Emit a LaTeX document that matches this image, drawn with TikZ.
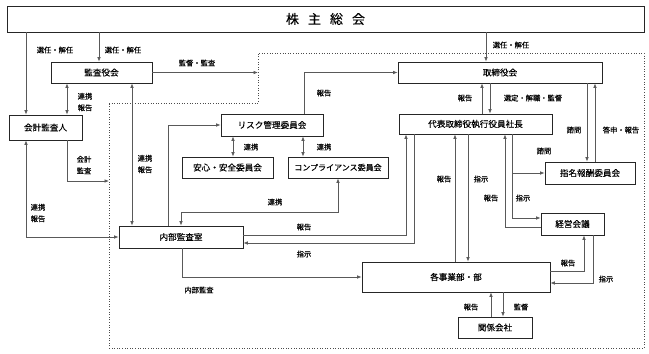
\documentclass[tikz,border=0pt]{standalone}
\usepackage{fontspec}
\setmainfont{Noto Sans CJK JP}[FakeBold=0.25]
\usetikzlibrary{arrows.meta}
\tikzset{
  box/.style={draw=black!85, line width=0.8pt, fill=white, inner sep=0pt,
    font=\fontsize{8.6}{10}\selectfont},
  conn/.style={draw=black!65, line width=0.7pt, -{Latex[length=4.5pt,width=3.6pt]}},
  bconn/.style={draw=black!65, line width=0.7pt, {Latex[length=4.5pt,width=3.6pt]}-{Latex[length=4.5pt,width=3.6pt]}},
  lab/.style={font=\fontsize{7.3}{11.5}\selectfont, inner sep=0pt, align=center},
  frame/.style={draw=black!70, line width=0.6pt, dotted}
}
\begin{document}
\begin{tikzpicture}[x=1pt,y=-1pt]
\useasboundingbox (0,0) rectangle (649,354);
% dotted frame
\draw[frame] (109,103) -- (258,103) -- (258,53) -- (644,53) -- (644,348) -- (109,348) -- cycle;
\coordinate (frameA) at (258,72.5);
\coordinate (frameB) at (109,181);
% boxes
\node[box, minimum width=637pt, minimum height=26pt, font=\fontsize{13}{15}\selectfont] (share) at (325.5,19) {株\hspace{9pt}主\hspace{9pt}総\hspace{9pt}会};
\node[box, minimum width=101pt, minimum height=21pt] (kansa) at (101.5,72.5) {監査役会};
\node[box, minimum width=73pt, minimum height=25pt] (kaikei) at (45.5,127.5) {会計監査人};
\node[box, minimum width=124pt, minimum height=22pt] (naibu) at (181,237) {内部監査室};
\node[box, minimum width=204pt, minimum height=21pt] (tori) at (500,72.5) {取締役会};
\node[box, minimum width=153pt, minimum height=20pt] (ceo) at (475.5,124) {代表取締役執行役員社長};
\node[box, minimum width=102pt, minimum height=22pt] (risk) at (272,125) {リスク管理委員会};
\node[box, minimum width=91pt, minimum height=21pt] (anshin) at (227.5,167.5) {安心・安全委員会};
\node[box, minimum width=100pt, minimum height=21pt] (comp) at (338,167.5) {\fontsize{8}{10}\selectfont コンプライアンス委員会};
\node[box, minimum width=90pt, minimum height=22pt] (shimei) at (590,173) {指名報酬委員会};
\node[box, minimum width=63pt, minimum height=22pt] (keiei) at (572.5,224) {経営会議};
\node[box, minimum width=188pt, minimum height=30pt] (jigyo) at (456,277) {各事業部・部};
\node[box, minimum width=74pt, minimum height=21pt] (kankei) at (495,327.5) {関係会社};
% connectors
\draw[conn] (26,0 |- share.south) -- (26,0 |- kaikei.north);
\draw[conn] (99,0 |- share.south) -- (99,0 |- kansa.north);
\draw[conn] (486,0 |- share.south) -- (486,0 |- tori.north);
\draw[conn] (kansa.east) -- (frameA);
\draw[bconn] (67,0 |- kansa.south) -- (67,0 |- kaikei.north);
\draw[bconn] (132,0 |- kansa.south) -- (132,0 |- naibu.north);
\draw[conn] (67,0 |- kaikei.south) |- (frameB);
\draw[bconn] (26,0 |- kaikei.south) |- (naibu.west);
\draw[conn] (168,0 |- naibu.north) |- (risk.west);
\draw[conn] (304,0 |- risk.north) |- (tori.west);
\draw[bconn] (233,0 |- risk.south) -- (233,0 |- anshin.north);
\draw[bconn] (303,0 |- risk.south) -- (303,0 |- comp.north);
\draw[bconn] (338,0 |- comp.south) -- (338,212) -| (181,0 |- naibu.north);
\draw[conn] (naibu.east |- 0,235) -| (406,0 |- ceo.south);
\draw[conn] (414,0 |- ceo.south) |- (naibu.east |- 0,243);
\draw[conn] (482,0 |- ceo.north) -- (482,0 |- tori.south);
\draw[conn] (490,0 |- tori.south) -- (490,0 |- ceo.north);
\draw[conn] (587,0 |- tori.south) -- (587,0 |- shimei.north);
\draw[conn] (595,0 |- shimei.north) -- (595,0 |- tori.south);
\draw[conn] (512,0 |- ceo.south) |- (shimei.west);
\draw[conn] (512,0 |- ceo.south) |- (keiei.west |- 0,218);
\draw[conn] (keiei.west |- 0,227) -| (505,0 |- ceo.south);
\draw[conn] (455,0 |- jigyo.north) -- (455,0 |- ceo.south);
\draw[conn] (468,0 |- ceo.south) -- (468,0 |- jigyo.north);
\draw[conn] (182,0 |- naibu.south) |- (jigyo.west);
\draw[conn] (jigyo.east |- 0,271) -| (584,0 |- keiei.south);
\draw[conn] (593,0 |- keiei.south) |- (jigyo.east |- 0,283);
\draw[conn] (491,0 |- kankei.north) -- (491,0 |- jigyo.south);
\draw[conn] (503,0 |- jigyo.south) -- (503,0 |- kankei.north);
% labels
\node[lab] (l1) at (55,50) {選任・解任};
\node[lab] (l2) at (123,50) {選任・解任};
\node[lab] (l3) at (511,45) {選任・解任};
\node[lab] (l4) at (197,63) {監督・監査};
\node[lab] (l5) at (85,102) {連携\\報告};
\node[lab] (l6) at (145,164) {連携\\報告};
\node[lab] (l7) at (84,165) {会計\\監査};
\node[lab] (l8) at (38,213) {連携\\報告};
\node[lab] (l9) at (324,93) {報告};
\node[lab] (l10) at (251,147) {連携};
\node[lab] (l11) at (324,147) {連携};
\node[lab] (l12) at (275,202) {連携};
\node[lab] (l13) at (304,227) {報告};
\node[lab] (l14) at (304,254) {指示};
\node[lab] (l15) at (199,290) {内部監査};
\node[lab] (l16) at (465,98) {報告};
\node[lab] (l17) at (533,98) {選定・解職・監督};
\node[lab] (l18) at (574,130) {諮問};
\node[lab] (l19) at (621,130) {答申・報告};
\node[lab] (l20) at (544,151) {諮問};
\node[lab] (l21) at (444,179) {報告};
\node[lab] (l22) at (481,179) {指示};
\node[lab] (l23) at (491,198) {報告};
\node[lab] (l24) at (523,198) {指示};
\node[lab] (l25) at (568,263) {報告};
\node[lab] (l26) at (606,279) {指示};
\node[lab] (l27) at (471,307) {報告};
\node[lab] (l28) at (521,307) {監督};
\end{tikzpicture}
\end{document}
